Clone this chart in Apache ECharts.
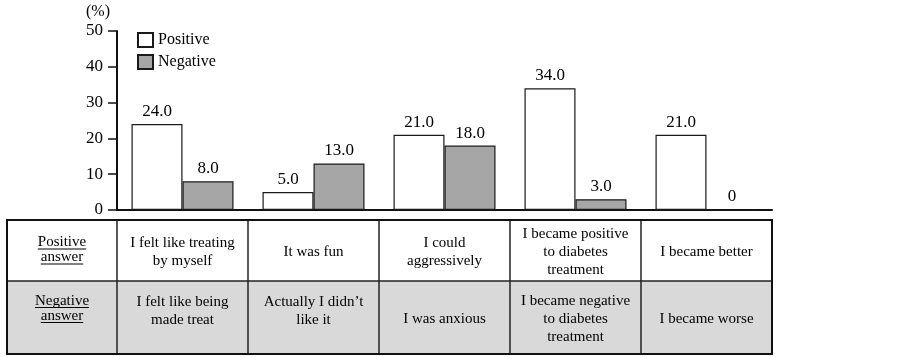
<!DOCTYPE html>
<html>
<head>
<meta charset="utf-8">
<script src="https://cdn.jsdelivr.net/npm/echarts@6/dist/echarts.min.js"></script>
<style>
html, body { margin: 0; padding: 0; background: #fff; }
#chart { width: 903px; height: 357px; }
</style>
</head>
<body>
<div id="chart"></div>
<script>
// data
const categories = ['Q1', 'Q2', 'Q3', 'Q4', 'Q5'];
const positiveValues = [24.0, 5.0, 21.0, 34.0, 21.0];
const negativeValues = [8.0, 13.0, 18.0, 3.0, 0];
const seriesNames = ['Positive', 'Negative'];
const rowHeaders = [['Positive', 'answer'], ['Negative', 'answer']];
const positiveAnswers = [
  ['I felt like treating', 'by myself'],
  ['It was fun'],
  ['I could', 'aggressively'],
  ['I became positive', 'to diabetes', 'treatment'],
  ['I became better']
];
const negativeAnswers = [
  ['I felt like being', 'made treat'],
  ['Actually I didn\u2019t', 'like it'],
  ['I was anxious'],
  ['I became negative', 'to diabetes', 'treatment'],
  ['I became worse']
];

const FONT = '"Liberation Serif", "DejaVu Serif", serif';
const W = 903, H = 357;
const grid = { left: 117, right: 131, top: 31, bottom: 147 };
const plotW = W - grid.left - grid.right;
const colW = plotW / categories.length;
const tbl = { left: 7, top: 220, mid: 281, bottom: 354 };

// measure text for the underlines in the header cells
const measureCtx = document.createElement('canvas').getContext('2d');
measureCtx.font = '15px ' + FONT;
function textWidth(s) { return measureCtx.measureText(s).width; }

function buildTable() {
  const els = [];
  const right = grid.left + plotW;
  // backgrounds
  els.push({ type: 'rect', shape: { x: tbl.left, y: tbl.top, width: right - tbl.left, height: tbl.mid - tbl.top }, style: { fill: '#ffffff' } });
  els.push({ type: 'rect', shape: { x: tbl.left, y: tbl.mid, width: right - tbl.left, height: tbl.bottom - tbl.mid }, style: { fill: '#d9d9d9' } });
  // inner lines
  els.push({ type: 'line', shape: { x1: tbl.left, y1: tbl.mid, x2: right, y2: tbl.mid }, style: { stroke: '#222', lineWidth: 1.5 } });
  for (let i = 0; i < categories.length; i++) {
    const x = grid.left + i * colW;
    els.push({ type: 'line', shape: { x1: x, y1: tbl.top, x2: x, y2: tbl.bottom }, style: { stroke: '#222', lineWidth: 1.5 } });
  }
  // outer border
  els.push({ type: 'rect', shape: { x: tbl.left, y: tbl.top, width: right - tbl.left, height: tbl.bottom - tbl.top }, style: { fill: 'none', stroke: '#111', lineWidth: 2 } });

  // header cells (underlined)
  const headerCenters = [250, 308.5];
  rowHeaders.forEach((lines, r) => {
    const cx = (tbl.left + grid.left) / 2;
    lines.forEach((ln, k) => {
      const y = headerCenters[r] + (k - (lines.length - 1) / 2) * 15;
      els.push({ type: 'text', style: { text: ln, x: cx, y: y, fill: '#000', font: '15px ' + FONT, textAlign: 'center', textVerticalAlign: 'middle' } });
      const w = textWidth(ln);
      els.push({ type: 'line', shape: { x1: cx - w / 2, y1: y + 6.5, x2: cx + w / 2, y2: y + 6.5 }, style: { stroke: '#000', lineWidth: 1 } });
    });
  });

  // answer cells
  const rows = [positiveAnswers, negativeAnswers];
  rows.forEach((row, r) => {
    row.forEach((lines, i) => {
      const cx = grid.left + (i + 0.5) * colW;
      let cy = r === 0 ? 252 : 319;
      if (r === 1 && lines.length === 2) cy = 311;
      els.push({
        type: 'text',
        style: { text: lines.join('\n'), x: cx, y: cy, fill: '#000', font: '15px ' + FONT, lineHeight: 18, textAlign: 'center', textVerticalAlign: 'middle' }
      });
    });
  });
  return els;
}

const chart = echarts.init(document.getElementById('chart'));
const labelOpt = {
  show: true,
  position: 'top',
  distance: 4,
  color: '#000',
  fontFamily: FONT,
  fontSize: 17,
  formatter: p => (p.value === 0 ? '0' : p.value.toFixed(1))
};
chart.setOption({
  animation: false,
  backgroundColor: '#fff',
  textStyle: { fontFamily: FONT },
  grid: grid,
  legend: {
    data: seriesNames,
    orient: 'vertical',
    left: 137,
    top: 32,
    padding: 0,
    icon: 'rect',
    itemWidth: 15,
    itemHeight: 14,
    itemGap: 6,
    textStyle: { color: '#000', fontSize: 16, fontFamily: FONT }
  },
  xAxis: {
    type: 'category',
    data: categories,
    axisLine: { lineStyle: { color: '#111', width: 2 } },
    axisTick: { show: false },
    axisLabel: { show: false }
  },
  yAxis: {
    type: 'value',
    min: 0,
    max: 50,
    interval: 10,
    name: '(%)',
    nameLocation: 'end',
    nameGap: 11,
    nameTextStyle: { color: '#000', fontSize: 16, fontFamily: FONT, align: 'right', padding: [0, 7, 0, 0] },
    splitLine: { show: false },
    axisLine: { show: true, lineStyle: { color: '#111', width: 2 } },
    axisTick: { show: true, length: 9, lineStyle: { color: '#111', width: 1.5 } },
    axisLabel: { color: '#000', fontSize: 17, fontFamily: FONT, margin: 14 }
  },
  series: [
    {
      name: seriesNames[0],
      type: 'bar',
      data: positiveValues,
      barWidth: 51,
      barGap: '0%',
      itemStyle: { color: '#ffffff', borderColor: '#1a1a1a', borderWidth: 1.2 },
      label: labelOpt
    },
    {
      name: seriesNames[1],
      type: 'bar',
      data: negativeValues,
      barWidth: 51,
      itemStyle: { color: '#a6a6a6', borderColor: '#1a1a1a', borderWidth: 1.2 },
      label: labelOpt
    }
  ],
  graphic: buildTable()
});
</script>
</body>
</html>
